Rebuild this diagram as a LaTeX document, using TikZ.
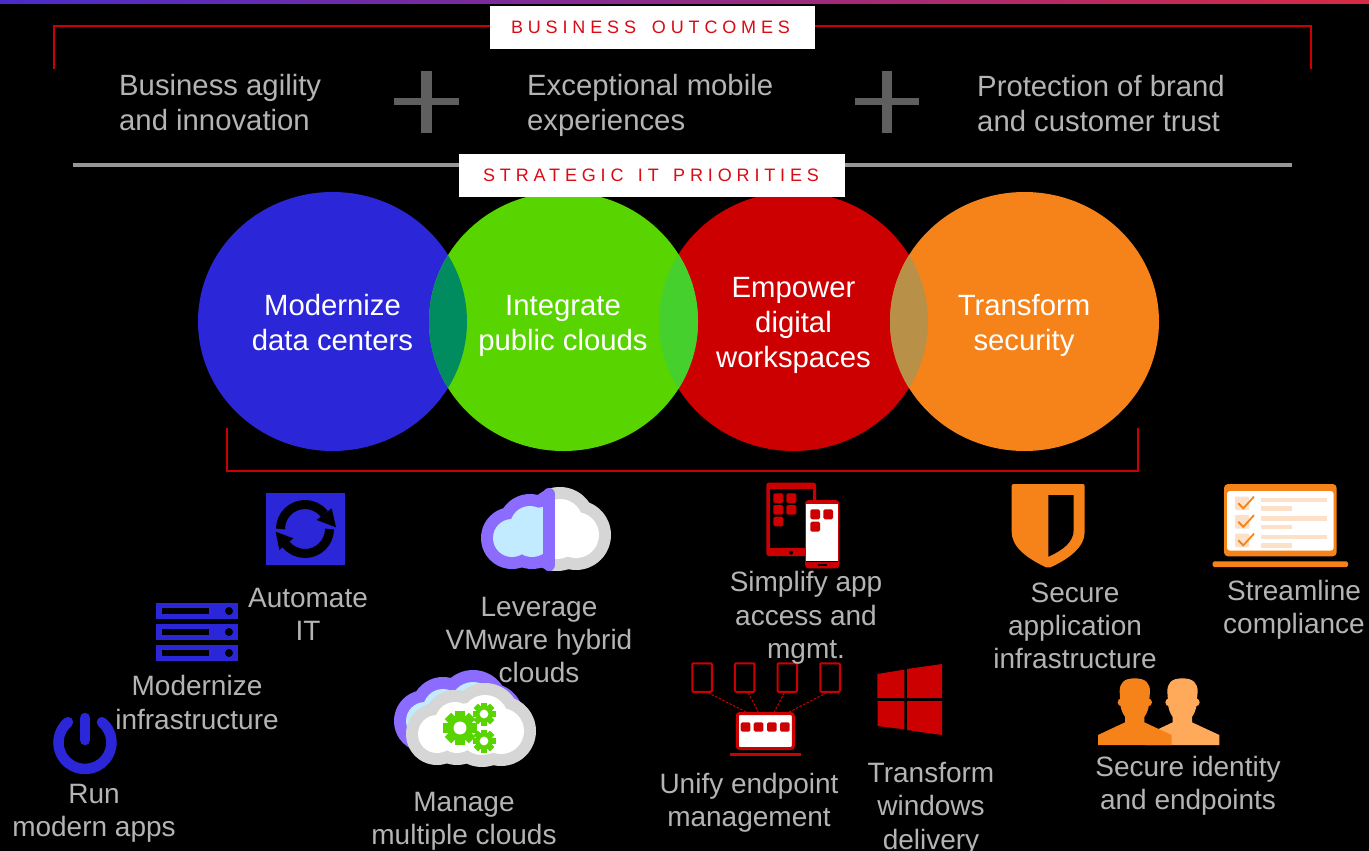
\documentclass[tikz,border=0pt]{standalone}
\usepackage{fontspec}
\setmainfont{Liberation Sans}
\newfontfamily\spacedfont[LetterSpace=27]{Liberation Sans}
\usetikzlibrary{calc}
\definecolor{cblue}{HTML}{2B27D8}
\definecolor{cgreen}{HTML}{58D500}
\definecolor{cred}{HTML}{CC0000}
\definecolor{cheadred}{HTML}{DC0A14}
\definecolor{corange}{HTML}{F58319}
\definecolor{corangeb}{HTML}{FFA95A}
\definecolor{corangel}{HTML}{FDE0C8}
\definecolor{cteal}{HTML}{008C5E}
\definecolor{clime}{HTML}{46D02E}
\definecolor{ctan}{HTML}{B89048}
\definecolor{ctext}{HTML}{B4B4B4}
\definecolor{cplus}{HTML}{5F5F5F}
\definecolor{crule}{HTML}{969696}
\definecolor{cpurple}{HTML}{8C6CFF}
\definecolor{cpale}{HTML}{C2EBFF}
\definecolor{cgrey}{HTML}{D6D6D6}
\definecolor{barleft}{HTML}{4A2CCB}
\definecolor{barmid}{HTML}{9A22A0}
\definecolor{barright}{HTML}{D62A45}
\newcommand\labelfont{\fontsize{28}{33.3}\selectfont}
\newcommand\bigfont{\fontsize{29.3}{35}\selectfont}
% cloud made of lobes, in local pixels, with #1 the offset
\newcommand\cloudlobes[2]{%
  \foreach \cx/\cy/\cr in {20/39/19,38/27/20,68/23/23,84/36/23,40/38/20,65/36/24,52/30/22}
    {\fill[#2] ($(#1)+(\cx,\cy)$) circle[radius=\cr pt];}%
}
\newcommand\cloudouter[2]{%
  \foreach \cx/\cy/\cr in {20/39/31,38/27/32,68/23/35,84/36/35,40/38/32,65/36/36,52/30/34}
    {\fill[#2] ($(#1)+(\cx,\cy)$) circle[radius=\cr pt];}%
}
\newcommand\geargr[3]{%
  \fill[cgreen] (#1,#2) circle[radius=0.76*#3 pt];
  \foreach \a in {0,45,90,135}
    {\fill[cgreen,rotate around={\a:(#1,#2)}] ($(#1,#2)+(-0.27*#3,-#3)$) rectangle ($(#1,#2)+(0.27*#3,#3)$);}
  \fill[white] (#1,#2) circle[radius=0.38*#3 pt];
}
\newcommand\personshape[2]{%
  \begin{scope}[xshift=#1*1pt]
  \fill[#2] (434,610) .. controls (400,610) and (389,625) .. (389,650) -- (392,695) .. controls (398,725) and (415,740) .. (434,742) .. controls (453,740) and (470,725) .. (476,695) -- (480,650) .. controls (480,625) and (468,610) .. (434,610) -- cycle;
  \fill[#2] (395,682) circle[radius=4pt];
  \fill[#2] (474,682) circle[radius=4pt];
  \fill[#2] (324,810) -- (324,780) -- (405,742) -- (405,715) -- (463,715) -- (463,742) -- (545,780) -- (545,810) -- cycle;
  \end{scope}
}
\tikzset{
  x=1pt,y=-1pt,
  zoomed/.style 2 args={x=0.33333pt,y=-0.33333pt,shift={(#1pt,-#2pt)}},
  txt/.style={text=ctext,align=center,inner sep=0pt,font=\labelfont},
  bigtxt/.style={text=ctext,align=left,inner sep=0pt,anchor=west,font=\bigfont},
  circtxt/.style={text=white,align=center,inner sep=0pt,font=\bigfont},
  headbox/.style={fill=white,text=cheadred,inner sep=0pt,font=\fontsize{18}{20}\selectfont\spacedfont},
  redline/.style={draw=cred,line width=2.2pt},
  endtablet/.style={draw=cred,line width=2pt,rounded corners=1pt,minimum width=19.5pt,minimum height=28.5pt,inner sep=0pt},
  endlaptop/.style={draw=cred,fill=white,line width=3pt,rounded corners=2.5pt,minimum width=56pt,minimum height=35pt,inner sep=0pt},
  linkline/.style={draw=cred,line width=1pt,dash pattern=on 2.5pt off 1.5pt},
  appred/.style={fill=cred,rounded corners=1.5pt},
}
\begin{document}
\begin{tikzpicture}
\useasboundingbox (0,0) rectangle (1369,851);
\fill[black] (0,0) rectangle (1369,851);
\shade[left color=barleft,middle color=barmid,right color=barright] (0,0) rectangle (1369,4);

% top bracket and rule
\coordinate (tl) at (54,69); \coordinate (tr) at (1311,69);
\draw[redline] (tl) -- (54,26) -- (1311,26) -- (tr);
\draw[crule,line width=4pt] (73,165) -- (1292,165);
% plus signs
\fill[cplus] (394,98) rectangle (459,105.3);
\fill[cplus] (421.3,70.7) rectangle (432,132.7);
\fill[cplus] (854.5,98) rectangle (919,105.3);
\fill[cplus] (881.6,70.7) rectangle (892,132.7);

% circles
\def\ry{129.5pt}\def\rx{134.5pt}
\fill[cblue] (332.5,321.5) ellipse[x radius=\rx,y radius=\ry];
\fill[cred] (793.5,321.5) ellipse[x radius=\rx,y radius=\ry];
\fill[cgreen] (563.5,321.5) ellipse[x radius=\rx,y radius=\ry];
\fill[corange] (1024.5,321.5) ellipse[x radius=\rx,y radius=\ry];
\begin{scope}
  \clip (332.5,321.5) ellipse[x radius=\rx,y radius=\ry];
  \fill[cteal] (563.5,321.5) ellipse[x radius=\rx,y radius=\ry];
\end{scope}
\begin{scope}
  \clip (563.5,321.5) ellipse[x radius=\rx,y radius=\ry];
  \fill[clime] (793.5,321.5) ellipse[x radius=\rx,y radius=\ry];
\end{scope}
\begin{scope}
  \clip (793.5,321.5) ellipse[x radius=\rx,y radius=\ry];
  \fill[ctan] (1024.5,321.5) ellipse[x radius=\rx,y radius=\ry];
\end{scope}

% header boxes
\node[headbox,minimum width=325pt,minimum height=43pt] (hb) at (652.5,27.5) {BUSINESS\hspace{6pt} OUTCOMES\hspace*{4pt}};
\node[headbox,minimum width=386pt,minimum height=43pt] (hs) at (652,175.5) {STRATEGIC\hspace{4.5pt} IT\hspace{4.5pt} PRIORITIES\hspace*{2pt}};

% bottom bracket
\coordinate (bl) at (227,428); \coordinate (br) at (1138,428);
\draw[redline] (bl) -- (227,471) -- (1138,471) -- (br);

% automate icon
\fill[cblue] (265.7,493) rectangle (345.3,565);
\draw[black,line width=9pt] (305-24.5,529) arc[start angle=180,end angle=38,radius=24.5pt];
\draw[black,line width=9pt] (305+24.5,529) arc[start angle=0,end angle=-142,radius=24.5pt];
\fill[black] (331.7,508.3) -- (336,527.3) -- (316.7,520) -- cycle;
\fill[black] (275.7,531.7) -- (293.3,538.3) -- (279.3,550) -- cycle;

% server icon
\foreach \sy in {603,624,645}{
  \fill[cblue] (156,\sy) rectangle (238,\sy+16);
  \fill[black] (162,\sy+5) rectangle (209,\sy+11);
  \fill[black] (229,\sy+8) circle[radius=4pt];
}

% power icon
\draw[cblue,line width=10.5pt,line cap=round] (85+17,742.5-20.3) arc[start angle=50,end angle=-230,radius=26.5pt];
\draw[cblue,line width=10.5pt,line cap=round] (85,718) -- (85,740);

% hybrid cloud icon
\coordinate (ca) at (492,499);
\begin{scope}
  \clip (470,480) rectangle (555,580);
  \cloudouter{ca}{cpurple}
  \clip (470,480) rectangle (543,580);
  \cloudlobes{ca}{cpale}
\end{scope}
\begin{scope}
  \clip (549,480) rectangle (620,580);
  \cloudouter{ca}{cgrey}
  \clip (555,480) rectangle (620,580);
  \cloudlobes{ca}{white}
\end{scope}
\draw[cpurple,line width=12pt,line cap=round] (549,494) -- (549,565);

% multi cloud icon
\coordinate (cb) at (405,682);
\coordinate (cc) at (417,695);
\cloudouter{cb}{cpurple}
\cloudlobes{cb}{cpale}
\cloudouter{cc}{cgrey}
\cloudlobes{cc}{white}
\geargr{460}{728}{17}
\geargr{484}{714}{11.5}
\geargr{484}{741}{11.5}

% tablet and phone icon
\begin{scope}[zoomed={670}{480}]
  \fill[cred,rounded corners=2.5pt] (289,8) rectangle (438,228);
  \fill[black] (300,27) rectangle (430,205);
  \fill[black] (363,218) circle[radius=2pt];
  \foreach \ax/\ay in {310/40,349/40,310/75,349/75,310/110}
    {\fill[appred] (\ax,\ay) rectangle (\ax+30,\ay+29);}
  \fill[cred,rounded corners=3.5pt] (405,60) rectangle (508,265);
  \fill[white] (408,72) rectangle (503,243);
  \fill[black] (408,243) rectangle (503,246);
  \fill[black] (444,251) rectangle (470,258);
  \foreach \ax/\ay in {421/88,460/88,421/125}
    {\fill[appred] (\ax,\ay) rectangle (\ax+29,\ay+30);}
\end{scope}

% endpoint management icon
\node[endtablet] (t1) at (702,677.5) {};
\node[endtablet] (t2) at (744.7,677.5) {};
\node[endtablet] (t3) at (787.3,677.5) {};
\node[endtablet] (t4) at (830,677.5) {};
\node[endlaptop] (lap) at (765.3,731) {};
\draw[linkline] ([xshift=6pt]t1.south) -- ([xshift=-19pt]lap.north);
\draw[linkline] ([xshift=3.5pt]t2.south) -- ([xshift=-7pt]lap.north);
\draw[linkline] ([xshift=-3pt]t3.south) -- ([xshift=9pt]lap.north);
\draw[linkline] ([xshift=-3.3pt]t4.south) -- ([xshift=24pt]lap.north);
\begin{scope}[zoomed={670}{480}]
  \foreach \ax in {212,251,291,330}
    {\fill[appred] (\ax,727) rectangle (\ax+29,755);}
  \fill[cred] (180,818) rectangle (393,829);
  % windows logo
  \fill[cred] (622,582) -- (703,569) -- (703,654) -- (622,654) -- cycle;
  \fill[cred] (711,567) -- (816,552) -- (816,654) -- (711,654) -- cycle;
  \fill[cred] (623,663) -- (703,663) -- (703,748) -- (623,738) -- cycle;
  \fill[cred] (711,663) -- (816,663) -- (816,765) -- (711,750) -- cycle;
\end{scope}

\begin{scope}[zoomed={990}{475}]
  % shield
  \fill[corange,rounded corners=2pt] (65,27) -- (284,27) -- (284,165) .. controls (284,215) and (240,250) .. (175,280) .. controls (110,250) and (65,215) .. (65,165) -- cycle;
  \fill[black] (175,60) -- (251,60) -- (251,165) .. controls (251,200) and (220,225) .. (175,245) -- cycle;
  % compliance laptop
  \fill[corange,rounded corners=4pt] (702,27) rectangle (1040,244);
  \fill[white,rounded corners=3pt] (711,48) rectangle (1031,227);
  \fill[corange,rounded corners=1.5pt] (668,259) rectangle (1074,276);
  \foreach \ry in {0,55.5,111}{
    \fill[corangel,rounded corners=1pt] (735,65+\ry) rectangle (778,105+\ry);
    \draw[corange,line width=1.8pt] (745,85+\ry) -- (760,100+\ry) -- (792,65+\ry);
    \fill[corangel] (813,68+\ry) rectangle (1011,82+\ry);
    \fill[corangel] (813,93+\ry) rectangle (906,107+\ry);
  }
  % people
  \personshape{47.67}{corangeb}
  \personshape{0}{corange}
\end{scope}

% top texts
\node[bigtxt] (o1) at (119,103) {Business agility\\and innovation};
\node[bigtxt] (o2) at (527,105.5) {Exceptional mobile\\experiences};
\node[bigtxt] (o3) at (977,103.5) {Protection of brand\\and customer trust};

% circle texts
\node[circtxt] (p1) at (332.5,323) {Modernize\\data centers};
\node[circtxt] (p2) at (563,325.5) {Integrate\\public clouds};
\node[circtxt] (p3) at (793.5,325) {Empower\\digital\\workspaces};
\node[circtxt] (p4) at (1024,325) {Transform\\security};

% icon labels
\node[txt] (l1) at (308,614.5) {Automate\\IT};
\node[txt] (l2) at (197,702.5) {Modernize\\infrastructure};
\node[txt] (l3) at (94,813.5) {Run\\modern apps};
\node[txt] (l4) at (539,640) {Leverage\\VMware hybrid\\clouds};
\node[txt] (l5) at (464,821.5) {Manage\\multiple clouds};
\node[txt] (l6) at (806,618) {Simplify app\\access and\\mgmt.};
\node[txt] (l7) at (749,802.5) {Unify endpoint\\management};
\node[txt] (l8) at (931,808.5) {Transform\\windows\\delivery};
\node[txt] (l9) at (1075,626) {Secure\\application\\infrastructure};
\node[txt] (l10) at (1294,610) {Streamline\\compliance};
\node[txt] (l11) at (1188,786) {Secure identity\\and endpoints};
\end{tikzpicture}
\end{document}
